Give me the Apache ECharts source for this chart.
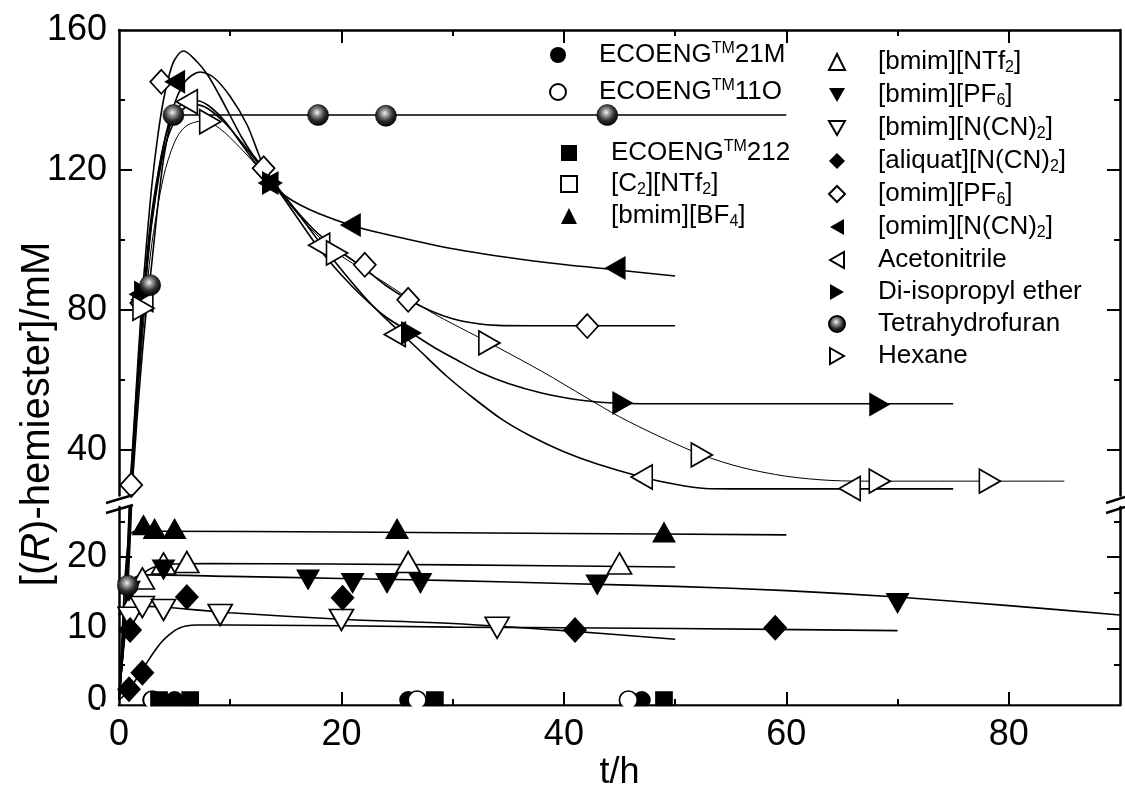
<!DOCTYPE html>
<html>
<head>
<meta charset="utf-8">
<script src="https://cdn.jsdelivr.net/npm/echarts@6/dist/echarts.min.js"></script>
<style>
  html, body { margin: 0; padding: 0; background: #fff; }
  #chart { width: 1125px; height: 787px; }
</style>
</head>
<body>
<div id="chart"></div>
<script>
// measured points, [t/h, mM]
const eco21MPts = [[2.9, 0], [5, 0], [26, 0], [47, 0]]
const eco11OPts = [[3, 0], [26.8, 0], [45.8, 0]]
const eco212Pts = [[3.6, 0], [6.4, 0], [28.4, 0], [49, 0]]
const c2NTf2Pts = [[3.6, 0], [6.4, 0], [28.4, 0], [49, 0]]
const bmimBF4Pts = [[2.2, 24.5], [3.2, 24], [5, 24], [25, 24], [49, 23.5]]
const bmimNTf2Pts = [[1.1, 13.5], [2.1, 17], [4, 19.1], [6.1, 19.3], [26, 19.3], [45, 19.1]]
const bmimPF6Pts = [[0.9, 15.2], [4, 18.2], [17, 16.8], [21, 16.3], [24.1, 16.3], [27.1, 16.3], [43, 16.1], [70, 13.5]]
const bmimNCN2Pts = [[1, 11.5], [2.1, 13], [4, 12.6], [9.1, 11.9], [20, 11.2], [34, 10.1]]
const aliquatPts = [[0.9, 1.5], [1, 9.8], [2.1, 3.8], [6.1, 14.4], [20.1, 14.3], [41, 9.8], [59, 10.1]]
const omimPF6Pts = [[1.1, 30], [2, 82], [3.8, 145.2], [13, 120.5], [22.1, 92.9], [26, 82.9], [42.1, 75.4]]
const omimNCN2Pts = [[1.8, 84.5], [5, 145.2], [13.4, 116.3], [20.8, 104.3], [44.6, 92]]
const acetonitrilePts = [[2.1, 83], [6.1, 139.5], [18, 98.5], [24.8, 73], [47, 32.3], [65.7, 29]]
const dipePts = [[2.3, 85], [13.8, 116.3], [26.3, 73.4], [45.3, 53.4], [68.4, 53]]
const thfPts = [[0.8, 16], [2.8, 87.1], [4.9, 135.7], [17.9, 135.7], [24, 135.5], [43.9, 135.7]]
const hexanePts = [[2.2, 80.5], [8.2, 133.8], [19.6, 96.3], [33.3, 70.6], [52.4, 38.6], [68.4, 31.1], [78.3, 31.1]]

// fitted curves
const bmimBF4Fit = [[0, 0], [0.25, 8], [0.5, 16], [0.75, 21], [1, 23.2], [1.5, 23.6], [3, 23.6], [20, 23.5], [40, 23.3], [60, 23.1]]
const bmimNTf2Fit = [[0, 0], [0.4, 7], [0.8, 12], [1.2, 14.8], [2, 17.3], [3, 18.5], [4.5, 19], [8, 19.1], [30, 18.9], [50, 18.6]]
const bmimPF6Fit = [[0, 0], [0.3, 8], [0.6, 13.5], [1, 16.2], [1.5, 17.2], [2.5, 17.5], [10, 17.3], [20, 17], [30, 16.7], [40, 16.3], [50, 15.9], [60, 15.3], [70, 14.4], [80, 13.2], [90, 11.9]]
const bmimNCN2Fit = [[0, 0], [0.3, 6], [0.6, 10], [1, 12], [1.5, 12.8], [2.5, 13.1], [4, 13], [10, 12.2], [20, 11.3], [30, 10.7], [40, 9.7], [50, 8.5]]
const aliquatFit = [[0, 0], [0.5, 0.7], [1, 1.7], [1.5, 2.8], [2, 4], [2.5, 5.2], [3, 6.4], [3.5, 7.5], [4, 8.4], [4.5, 9.1], [5, 9.7], [5.5, 10.1], [6, 10.35], [7, 10.5], [10, 10.5], [30, 10.2], [50, 10], [70, 9.7]]
const omimPF6Fit = [[0, 0], [0.5, 12], [1, 30], [1.5, 55], [2, 80], [2.5, 100], [3, 117], [3.5, 130], [4, 140], [4.5, 147], [5, 151.5], [5.8, 154], [7, 151], [8, 147], [9, 141.5], [10, 135.5], [11, 129.5], [12, 124.5], [13, 120.5], [15, 112], [17.5, 103], [20, 96.5], [22, 92], [24, 87], [26, 83], [28, 79.8], [30, 77.5], [32, 76.2], [34, 75.6], [37, 75.5], [50, 75.5]]
const omimNCN2Fit = [[0, 0], [0.5, 10], [1, 27], [1.5, 50], [2, 72], [2.5, 92], [3, 107], [4, 127], [5, 139], [6, 145.5], [7.3, 148], [8.5, 146.5], [10, 141], [11.5, 133], [12.5, 125], [13.6, 116.5], [15, 112.5], [16.3, 110], [18, 107.5], [20.8, 104.3], [23.5, 102], [30, 97.5], [35, 95], [40, 93], [44.6, 91.5], [50, 89.7]]
const dipeFit = [[0, 0], [0.5, 11], [1, 29], [1.5, 53], [2, 76], [2.5, 95], [3, 109], [4, 127], [5, 136.5], [6, 139.5], [7, 139.8], [8, 138.5], [9.5, 134], [11, 127.5], [12.5, 121], [14, 115.5], [16, 106.5], [18, 97.5], [20, 90], [22, 83.5], [24, 78], [26.3, 73.4], [28.5, 69], [30.5, 65.5], [32.4, 62.3], [35, 59], [38, 56.3], [41.4, 54.3], [44, 53.5], [47, 53.2], [75, 53.2]]
const acetonitrileFit = [[0, 0], [0.5, 10], [1, 27], [1.5, 50], [2, 72], [2.5, 91], [3, 106], [4, 125], [5, 134], [6, 138], [7, 138.6], [8, 137.5], [9.5, 133.5], [11, 128], [12.5, 122], [14, 116], [16, 108], [18, 99.5], [20, 91.5], [22, 84], [23.5, 79], [25, 74.5], [27, 68.5], [29.5, 61], [32, 54.5], [34.5, 48.6], [37, 44], [40, 39.5], [43, 36], [47, 32.3], [50, 30.2], [52.7, 29], [55, 28.9], [75, 28.9]]
const thfFit = [[0, 0], [0.4, 8], [0.8, 16], [1.2, 30], [1.6, 48], [2, 64], [2.4, 78], [2.8, 89], [3.2, 101], [3.6, 113], [4, 123], [4.4, 130], [4.8, 134.5], [5.3, 135.7], [60, 135.7]]
const hexaneFit = [[0, 0], [0.5, 9], [1, 25], [1.5, 47], [2, 68], [2.5, 86], [3, 100], [4, 118], [5, 128], [6, 132.5], [7.5, 134], [9, 132], [11, 126], [13, 119], [15, 111.5], [17, 104], [19.6, 96.3], [23.5, 88.6], [28, 79.5], [33.3, 70.6], [38, 62.5], [42, 55], [45, 49.5], [48.5, 44], [52.4, 38.6], [56, 35], [60, 32.5], [64, 31.3], [68, 31.1], [85, 31.1]]

const xLabels = [0, 20, 40, 60, 80]
const upperLabels = [40, 80, 120, 160]
const lowerLabels = [0, 10, 20]

const font = '"Liberation Sans", Arial, sans-serif'
const sphere = {
  type: 'radial', x: 0.45, y: 0.38, r: 0.62,
  colorStops: [
    { offset: 0, color: '#f4f4f4' },
    { offset: 0.25, color: '#9a9a9a' },
    { offset: 0.6, color: '#303030' },
    { offset: 1, color: '#000' }
  ]
}

// legend does not pick up symbolRotate, so the turned triangles get their own paths
const triDown = 'path://M0,0L12,0L6,10.5Z'
const triLeft = 'path://M0,6L10.5,0L10.5,12Z'
const triRight = 'path://M0,0L10.5,6L0,12Z'

const defs = [
  { name: 'eco21M', pts: eco21MPts, symbol: 'circle', size: 18, style: 'filled' },
  { name: 'eco11O', pts: eco11OPts, symbol: 'circle', size: 18, style: 'open' },
  { name: 'c2NTf2', pts: c2NTf2Pts, symbol: 'rect', size: 16, style: 'open' },
  { name: 'eco212', pts: eco212Pts, symbol: 'rect', size: 16, style: 'filled' },
  { name: 'bmimBF4', pts: bmimBF4Pts, fit: bmimBF4Fit, symbol: 'triangle', size: [24, 21], style: 'filled' },
  { name: 'bmimNTf2', pts: bmimNTf2Pts, fit: bmimNTf2Fit, symbol: 'triangle', size: [24, 21], style: 'open' },
  { name: 'bmimPF6', pts: bmimPF6Pts, fit: bmimPF6Fit, symbol: 'triangle', rotate: 180, icon: triDown, size: [24, 21], style: 'filled' },
  { name: 'bmimNCN2', pts: bmimNCN2Pts, fit: bmimNCN2Fit, symbol: 'triangle', rotate: 180, icon: triDown, size: [24, 21], style: 'open' },
  { name: 'aliquat', pts: aliquatPts, fit: aliquatFit, symbol: 'diamond', size: [24, 26], style: 'filled' },
  { name: 'omimPF6', pts: omimPF6Pts, fit: omimPF6Fit, symbol: 'diamond', size: [22, 24], style: 'open' },
  { name: 'omimNCN2', pts: omimNCN2Pts, fit: omimNCN2Fit, symbol: 'triangle', rotate: 90, icon: triLeft, size: [24, 21], style: 'filled' },
  { name: 'acetonitrile', pts: acetonitrilePts, fit: acetonitrileFit, symbol: 'triangle', rotate: 90, icon: triLeft, size: [24, 21], style: 'open' },
  { name: 'dipe', pts: dipePts, fit: dipeFit, symbol: 'triangle', rotate: -90, icon: triRight, size: [24, 21], style: 'filled' },
  { name: 'thf', pts: thfPts, fit: thfFit, symbol: 'circle', size: 21, style: 'sphere' },
  { name: 'hexane', pts: hexanePts, fit: hexaneFit, symbol: 'triangle', rotate: -90, icon: triRight, size: [24, 21], style: 'open', thin: true }
]

const labelText = {
  eco21M: '{t|ECOENG}{sup|TM}{t|21M}',
  eco11O: '{t|ECOENG}{sup|TM}{t|11O}',
  eco212: '{t|ECOENG}{sup|TM}{t|212}',
  c2NTf2: '{t|[C}{sub|2}{t|][NTf}{sub|2}{t|]}',
  bmimBF4: '{t|[bmim][BF}{sub|4}{t|]}',
  bmimNTf2: '{t|[bmim][NTf}{sub|2}{t|]}',
  bmimPF6: '{t|[bmim][PF}{sub|6}{t|]}',
  bmimNCN2: '{t|[bmim][N(CN)}{sub|2}{t|]}',
  aliquat: '{t|[aliquat][N(CN)}{sub|2}{t|]}',
  omimPF6: '{t|[omim][PF}{sub|6}{t|]}',
  omimNCN2: '{t|[omim][N(CN)}{sub|2}{t|]}',
  acetonitrile: '{t|Acetonitrile}',
  dipe: '{t|Di-isopropyl ether}',
  thf: '{t|Tetrahydrofuran}',
  hexane: '{t|Hexane}'
}

const richText = {
  t: { fontSize: 26, lineHeight: 28, fontFamily: font, color: '#000' },
  sup: { fontSize: 16, lineHeight: 16, verticalAlign: 'top', fontFamily: font, color: '#000' },
  sub: { fontSize: 16, lineHeight: 9, verticalAlign: 'bottom', fontFamily: font, color: '#000' }
}

function markerStyle(style) {
  if (style === 'filled') return { color: '#000', borderColor: '#000', borderWidth: 0, opacity: 1 }
  if (style === 'sphere') return { color: sphere, borderColor: '#000', borderWidth: 0.6, opacity: 1 }
  return { color: '#fff', borderColor: '#000', borderWidth: 1.7, opacity: 1 }
}

// every series is drawn in both panels, the grid clips it at the break
const panels = [[0, 0], [2, 4]]
const series = []
defs.forEach(d => {
  if (!d.fit) return
  panels.forEach(([xi, yi]) => {
    series.push({
      name: d.name + '-fit', type: 'line', xAxisIndex: xi, yAxisIndex: yi,
      data: d.fit, smooth: 0.3, showSymbol: false, symbol: 'none', silent: true, z: 2,
      lineStyle: { color: '#000', width: d.thin ? 1 : 1.6, opacity: 1 }
    })
  })
})
defs.forEach(d => {
  panels.forEach(([xi, yi]) => {
    series.push({
      name: d.name, type: 'scatter', xAxisIndex: xi, yAxisIndex: yi,
      data: d.pts, symbol: d.symbol, symbolSize: d.size, symbolRotate: d.rotate || 0,
      itemStyle: markerStyle(d.style), silent: true, z: 3
    })
  })
})

function makeAxis(grid, pos, min, max, ticks, len, line, labels) {
  return {
    type: 'value', gridIndex: grid, position: pos, min: min, max: max,
    splitLine: { show: false },
    axisLine: { show: line, onZero: false, lineStyle: { color: '#000', width: 2.5 } },
    axisTick: { show: true, inside: true, length: len, customValues: ticks, lineStyle: { color: '#000', width: 2 } },
    axisLabel: labels
      ? { show: true, customValues: labels, fontSize: 36, color: '#000', fontFamily: font, margin: 12 }
      : { show: false }
  }
}

function legendAt(names, left, top, gap, pad) {
  return {
    data: names.map(n => {
      const d = defs.find(s => s.name === n)
      return d.icon ? { name: n, icon: d.icon } : { name: n }
    }),
    orient: 'vertical', left: left, top: top, padding: 0,
    itemWidth: 16, itemHeight: 16, itemGap: gap, selectedMode: false,
    formatter: n => labelText[n],
    textStyle: { fontSize: 26, fontFamily: font, color: '#000', rich: richText, padding: [0, 0, 0, pad] }
  }
}

const xBottom = makeAxis(1, 'bottom', 0, 90, [20, 40, 60, 80], 13, true, xLabels)
xBottom.name = 't/h'
xBottom.nameLocation = 'middle'
xBottom.nameGap = 50
xBottom.nameTextStyle = { fontSize: 36, fontFamily: font, color: '#000' }

const option = {
  animation: false,
  backgroundColor: '#fff',
  grid: [
    { left: 119, right: 5, top: 30, bottom: 291.5, outerBoundsMode: 'none' },
    { left: 119, right: 5, top: 507, bottom: 82, outerBoundsMode: 'none' }
  ],
  xAxis: [
    makeAxis(0, 'top', 0, 90, [20, 40, 60, 80], 13, true, null),
    makeAxis(0, 'top', 0, 90, [10, 30, 50, 70], 6, false, null),
    xBottom,
    makeAxis(1, 'bottom', 0, 90, [10, 30, 50, 70], 6, false, null)
  ],
  yAxis: [
    makeAxis(0, 'left', 27, 160, [40, 80, 120], 13, true, upperLabels),
    makeAxis(0, 'left', 27, 160, [60, 100, 140], 6, false, null),
    makeAxis(0, 'right', 27, 160, [40, 80, 120], 13, true, null),
    makeAxis(0, 'right', 27, 160, [60, 100, 140], 6, false, null),
    makeAxis(1, 'left', -0.7, 27, [10, 20], 13, true, lowerLabels),
    makeAxis(1, 'left', -0.7, 27, [5, 15, 25], 6, false, null),
    makeAxis(1, 'right', -0.7, 27, [10, 20], 13, true, null),
    makeAxis(1, 'right', -0.7, 27, [5, 15, 25], 6, false, null)
  ],
  legend: [
    legendAt(['eco21M', 'eco11O'], 549, 41, 10, 28),
    legendAt(['eco212', 'c2NTf2', 'bmimBF4'], 560, 139, 5, 29),
    legendAt(['bmimNTf2', 'bmimPF6', 'bmimNCN2', 'aliquat', 'omimPF6', 'omimNCN2', 'acetonitrile', 'dipe', 'thf', 'hexane'], 828, 49, 6, 28)
  ],
  graphic: [
    {
      type: 'text', x: 38, y: 414, rotation: Math.PI / 2,
      style: {
        text: '{n|[(}{i|R}{n|)-hemiester]/mM}', align: 'center', verticalAlign: 'middle',
        rich: {
          n: { fontSize: 40, fontFamily: font, fill: '#000' },
          i: { fontSize: 40, fontFamily: font, fontStyle: 'italic', fill: '#000' }
        }
      }
    },
    { type: 'rect', z: 50, shape: { x: 100, y: 706.5, width: 1025, height: 9 }, style: { fill: '#fff' } },
    { type: 'line', z: 60, shape: { x1: 106, y1: 503, x2: 133, y2: 495 }, style: { stroke: '#000', lineWidth: 2.5 } },
    { type: 'line', z: 60, shape: { x1: 106, y1: 513, x2: 133, y2: 505 }, style: { stroke: '#000', lineWidth: 2.5 } },
    { type: 'line', z: 60, shape: { x1: 1106, y1: 503, x2: 1125, y2: 497 }, style: { stroke: '#000', lineWidth: 2.5 } },
    { type: 'line', z: 60, shape: { x1: 1106, y1: 513, x2: 1125, y2: 507 }, style: { stroke: '#000', lineWidth: 2.5 } }
  ],
  series: series
}

const chart = echarts.init(document.getElementById('chart'))
chart.setOption(option)
</script>
</body>
</html>
